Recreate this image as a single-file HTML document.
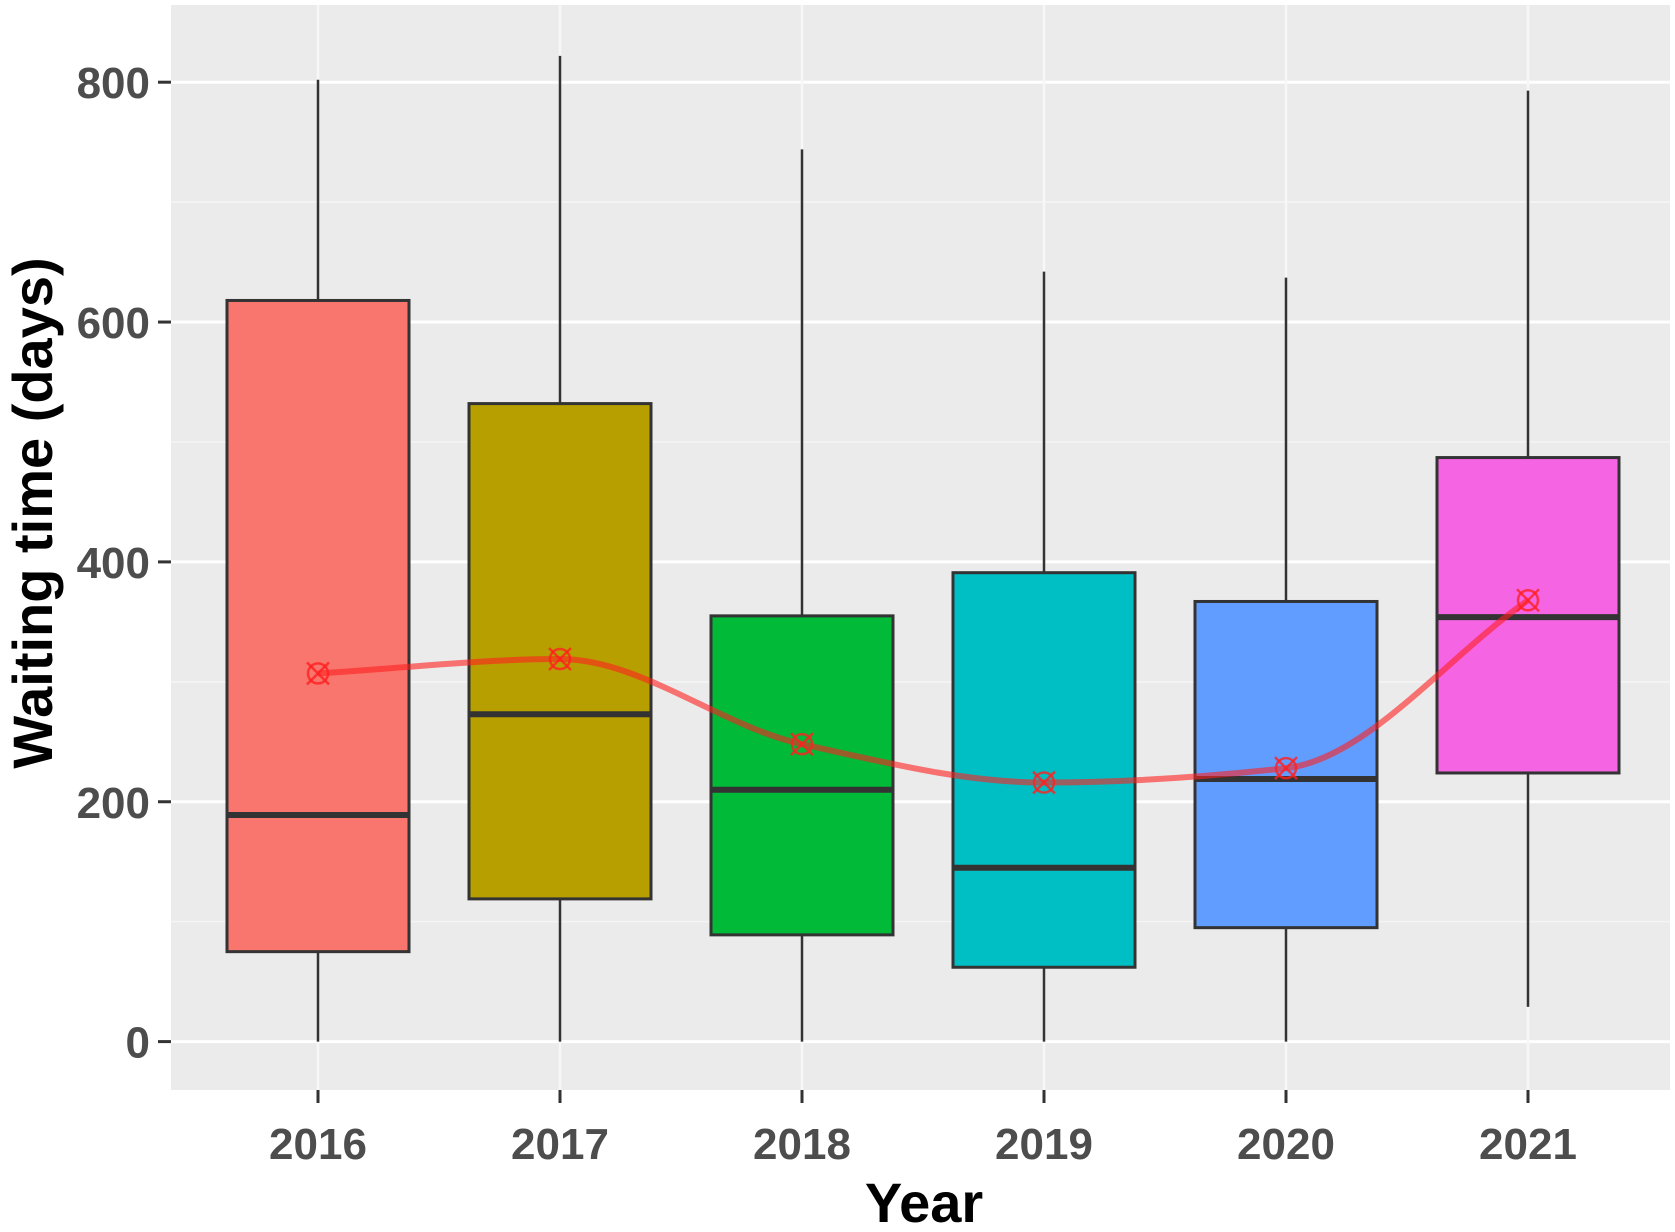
<!DOCTYPE html>
<html><head><meta charset="utf-8"><style>
html,body{margin:0;padding:0;background:#fff;}
svg{display:block;}
</style></head><body>
<svg id="chart" width="1675" height="1232" xmlns="http://www.w3.org/2000/svg">
<rect x="171" y="5" width="1499" height="1085" fill="#EBEBEB"/>
<g id="grid"></g>
<g id="boxes"></g>
<g id="means"></g>
<g id="axes"></g>
<text x="924" y="1222" font-family="Liberation Sans, sans-serif" font-weight="bold" font-size="56" text-anchor="middle" fill="#000">Year</text>
<text transform="translate(52,513) rotate(-90)" font-family="Liberation Sans, sans-serif" font-weight="bold" font-size="56" text-anchor="middle" fill="#000">Waiting time (days)</text>
</svg>
<script>
const categories = ["2016","2017","2018","2019","2020","2021"];
const lowerWhisker = [0,0,0,0,0,29];
const q1 = [75,119,89,62,95,224];
const median = [189,273,210,145,219,354];
const q3 = [618,532,355,391,367,487];
const upperWhisker = [802,822,744,642,637,793];
const means = [307,319,248,216,228,368];
const yTicks = [0,200,400,600,800];
const colors = ["#F8766D","#B79F00","#00BA38","#00BFC4","#619CFF","#F564E3"];

const NS="http://www.w3.org/2000/svg";
const y = v => 1041.6 - v*(1041.6-82.2)/800;
const x = i => 318 + i*242;
const halfW = 91;
function mk(tag, attrs, parent){const e=document.createElementNS(NS,tag);for(const k in attrs)e.setAttribute(k,attrs[k]);parent.appendChild(e);return e;}
const grid=document.getElementById('grid'), boxes=document.getElementById('boxes'), meansG=document.getElementById('means'), axes=document.getElementById('axes');
for(let v=100; v<=900; v+=200){ if(y(v)<5) continue;
  const l=mk('line',{x1:171,x2:1670,y1:y(v),y2:y(v),stroke:'#F5F5F5','stroke-width':1.5},grid);
  
  
}
yTicks.forEach(v=>{
  const l=mk('line',{x1:171,x2:1670,y1:y(v),y2:y(v),stroke:'#fff','stroke-width':3},grid);
  
  
  const t=mk('line',{x1:158,x2:171,y1:y(v),y2:y(v),stroke:'#333','stroke-width':3},axes);
  
  
  const tx=mk('text',{x:150,y:y(v)+16,'text-anchor':'end','font-family':'Liberation Sans, sans-serif','font-weight':'bold','font-size':44,fill:'#4D4D4D'},axes);
  tx.textContent=v;
  
  
});
categories.forEach((c,i)=>{
  const gl=mk('line',{x1:x(i),x2:x(i),y1:5,y2:1090,stroke:'#F7F7F7','stroke-width':2.5},grid);
  
  
  const t=mk('line',{x1:x(i),x2:x(i),y1:1090,y2:1103,stroke:'#333','stroke-width':3},axes);
  
  
  const tx=mk('text',{x:x(i),y:1159,'text-anchor':'middle','font-family':'Liberation Sans, sans-serif','font-weight':'bold','font-size':44,fill:'#4D4D4D'},axes);
  tx.textContent=c;
  
  
  const w1=mk('line',{x1:x(i),x2:x(i),y1:y(upperWhisker[i]),y2:y(q3[i]),stroke:'#333','stroke-width':2.5},boxes);
  
  
  const w2=mk('line',{x1:x(i),x2:x(i),y1:y(q1[i]),y2:y(lowerWhisker[i]),stroke:'#333','stroke-width':2.5},boxes);
  
  
  const b=mk('rect',{x:x(i)-halfW,y:y(q3[i]),width:2*halfW,height:y(q1[i])-y(q3[i]),fill:colors[i],stroke:'#333','stroke-width':3},boxes);
  
  
  const m=mk('line',{x1:x(i)-halfW,x2:x(i)+halfW,y1:y(median[i]),y2:y(median[i]),stroke:'#333','stroke-width':6},boxes);
  
  
});
// smooth mean line (monotone cubic)
const pts=means.map((v,i)=>[x(i),y(v)]);
const n=pts.length, dx=242;
const sl=[];for(let i=0;i<n-1;i++)sl.push((pts[i+1][1]-pts[i][1])/dx);
const m=[sl[0]];for(let i=1;i<n-1;i++){m.push(sl[i-1]*sl[i]<=0?0:2/(1/sl[i-1]+1/sl[i]));}m.push(sl[n-2]);
let d=`M${pts[0][0]},${pts[0][1]}`;
for(let i=0;i<n-1;i++){
  const p1=pts[i],p2=pts[i+1];
  d+=` C${p1[0]+dx/3},${p1[1]+m[i]*dx/3} ${p2[0]-dx/3},${p2[1]-m[i+1]*dx/3} ${p2[0]},${p2[1]}`;
}
const ml=mk('path',{d:d,fill:'none',stroke:'#FF2020','stroke-opacity':0.6,'stroke-width':6},meansG);


pts.forEach((p,i)=>{
  const g=mk('g',{stroke:'#FF2020','stroke-opacity':0.8,'stroke-width':2.5,fill:'none'},meansG);
  
  
  mk('circle',{cx:p[0],cy:p[1],r:10},g);
  mk('line',{x1:p[0]-11,y1:p[1]-11,x2:p[0]+11,y2:p[1]+11},g);
  mk('line',{x1:p[0]-11,y1:p[1]+11,x2:p[0]+11,y2:p[1]-11},g);
});
</script>
</body></html>
